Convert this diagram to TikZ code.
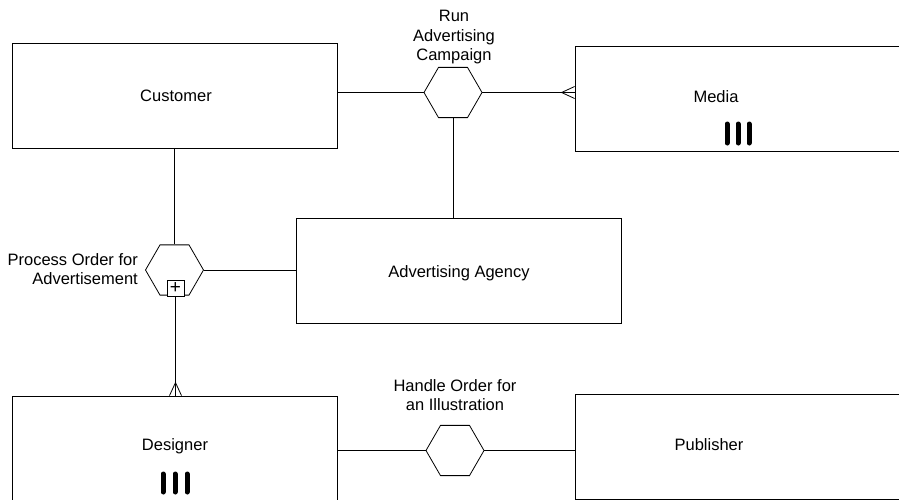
\documentclass[tikz,border=0pt]{standalone}
\usepackage{fontspec}
\setmainfont{Liberation Sans}
\usetikzlibrary{shapes.geometric}

\tikzset{
  entity/.style={draw, line width=0.8pt, minimum width=325pt, minimum height=105pt, inner sep=0pt},
  process/.style={draw, line width=0.8pt, regular polygon, regular polygon sides=6, minimum size=58pt, inner sep=0pt},
  link/.style={line width=0.8pt},
  lbl/.style={align=center, font=\fontsize{16.5}{19.5}\selectfont, inner sep=0pt},
  manymark/.style={line width=5pt, line cap=round}
}

\begin{document}
\begin{tikzpicture}[x=1pt,y=1pt,yscale=-1,xscale=1]

            \useasboundingbox (0,0) rectangle (899,499);

            % Entities
            \node [entity] (customer) at (174.5,95.5) {};
            \node [entity] (media) at (737.5,98.5) {};
            \node [entity] (agency) at (459,270.5) {};
            \node [entity] (designer) at (174.5,448.5) {};
            \node [entity] (publisher) at (737.5,446.5) {};

            % Entity names
            \node [lbl, anchor=base] (customerlbl) at (176,101.5) {Customer};
            \node [lbl, anchor=base] (medialbl) at (716,102.5) {Media};
            \node [lbl, anchor=base] (agencylbl) at (459,277.5) {Advertising Agency};
            \node [lbl, anchor=base] (designerlbl) at (175,450.5) {Designer};
            \node [lbl, anchor=base] (publisherlbl) at (709,450.5) {Publisher};

            % Processes
            \node [process] (runcampaign) at (453,92.5) {};
            \node [process] (processorder) at (174.5,270) {};
            \node [process] (handleorder) at (455,450.5) {};
            \node [draw, line width=0.8pt, fill=white, minimum width=17pt, minimum height=16pt, inner sep=0pt, font=\fontsize{19}{19}\selectfont] (expand) at (175.5,288) {+};

            % Process names
            \node [lbl, anchor=north] (runlbl) at (454,10) {Run\\Advertising\\Campaign};
            \node [lbl, align=right, anchor=north east] (processlbl) at (138,253) {Process Order for\\Advertisement};
            \node [lbl, anchor=north] (handlelbl) at (455,379) {Handle Order for\\an Illustration};

            % Links
            \draw [link] (runcampaign.west) -- (runcampaign.west -| customer.east);
            \draw [link] (runcampaign.east) -- (runcampaign.east -| media.west);
            \draw [link] (runcampaign.south) -- (runcampaign.south |- agency.north);
            \draw [link] (processorder.north) -- (processorder.north |- customer.south);
            \draw [link] (processorder.east) -- (processorder.east -| agency.west);
            \draw [link] (expand.south) -- (expand.south |- designer.north);
            \draw [link] (handleorder.west) -- (handleorder.west -| designer.east);
            \draw [link] (handleorder.east) -- (handleorder.east -| publisher.west);

            % Crow's feet
            \coordinate (mediafoot) at (runcampaign.east -| media.west);
            \draw [link] (mediafoot) ++(0,-6) -- ++(-13,6) -- ++(13,6);
            \coordinate (designerfoot) at (expand.south |- designer.north);
            \draw [link] (designerfoot) ++(-6,0) -- ++(6,-13) -- ++(6,13);

            % Many marks
            \foreach \x in {727,738,749} \draw [manymark] (\x,124) -- (\x,143);
            \foreach \x in {163,175,187} \draw [manymark] (\x,474) -- (\x,492);

\end{tikzpicture}
\end{document}
